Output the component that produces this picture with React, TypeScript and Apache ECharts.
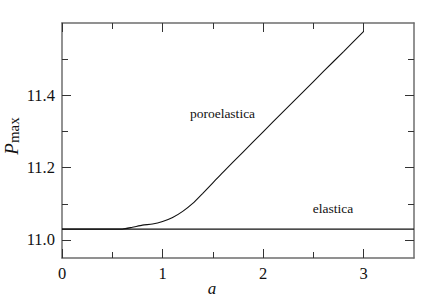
import React, { useEffect, useRef } from "react";
import * as echarts from "echarts";

// a values and P_max values
const poroX = [0, 0.2, 0.4, 0.6, 0.7, 0.8, 0.9, 1.0, 1.1, 1.2, 1.3, 1.4, 1.5, 1.6, 1.8, 2.0, 2.2, 2.4, 2.6, 2.8, 3.0];
const poroY = [11.03, 11.03, 11.03, 11.03, 11.035, 11.041, 11.044, 11.051, 11.062, 11.079, 11.101, 11.129, 11.158, 11.187, 11.243, 11.299, 11.355, 11.41, 11.466, 11.521, 11.577];
const elasticX = [0, 3.5];
const elasticY = [11.03, 11.03];

const xMajorTicks = [0, 1, 2, 3];
const xMinorTicks = [0.5, 1.5, 2.5];
const yMajorTicks = [11.0, 11.2, 11.4];
const yMinorTicks = [11.1, 11.3, 11.5];

const FONT = "Liberation Serif";
const FRAME = "#6e6e6e";
const TICK = "#333";

function xAxisDef(position: "top" | "bottom", ticks: number[], len: number, showLine: boolean, labels: boolean) {
  return {
    type: "value",
    position,
    min: 0,
    max: 3.5,
    splitLine: { show: false },
    axisLine: { show: showLine, onZero: false, lineStyle: { color: FRAME, width: 1.5 } },
    axisTick: { show: true, inside: true, length: len, customValues: ticks, lineStyle: { color: TICK, width: 1 } },
    axisLabel: labels
      ? { show: true, customValues: ticks, margin: 7, color: "#111", fontFamily: FONT, fontSize: 16.5, formatter: (v: number) => String(v) }
      : { show: false },
  };
}

function yAxisDef(position: "left" | "right", ticks: number[], len: number, showLine: boolean, labels: boolean) {
  return {
    type: "value",
    position,
    min: 10.95,
    max: 11.6,
    splitLine: { show: false },
    axisLine: { show: showLine, onZero: false, lineStyle: { color: FRAME, width: 1.5 } },
    axisTick: { show: true, inside: true, length: len, customValues: ticks, lineStyle: { color: TICK, width: 1 } },
    axisLabel: labels
      ? { show: true, customValues: ticks, margin: 7, color: "#111", fontFamily: FONT, fontSize: 16.5, formatter: (v: number) => v.toFixed(1) }
      : { show: false },
  };
}

export default function App() {
  const ref = useRef<HTMLDivElement>(null);
  useEffect(() => {
    if (!ref.current) return;
    const chart = echarts.init(ref.current, null, { renderer: "svg" });
    chart.setOption({
      animation: false,
      backgroundColor: "#fff",
      textStyle: { fontFamily: FONT },
      grid: { left: 62, right: 22, top: 23, bottom: 42 },
      xAxis: [
        xAxisDef("bottom", xMajorTicks, 9, true, true),
        xAxisDef("bottom", xMinorTicks, 6, false, false),
        xAxisDef("top", xMajorTicks, 9, true, false),
        xAxisDef("top", xMinorTicks, 6, false, false),
      ],
      yAxis: [
        yAxisDef("left", yMajorTicks, 9, true, true),
        yAxisDef("left", yMinorTicks, 6, false, false),
        yAxisDef("right", yMajorTicks, 9, true, false),
        yAxisDef("right", yMinorTicks, 6, false, false),
      ],
      series: [
        {
          name: "elastica",
          type: "line",
          xAxisIndex: 0,
          yAxisIndex: 0,
          showSymbol: false,
          lineStyle: { color: "#111", width: 1.3 },
          data: elasticX.map((x, i) => [x, elasticY[i]]),
        },
        {
          name: "poroelastica",
          type: "line",
          xAxisIndex: 0,
          yAxisIndex: 0,
          showSymbol: false,
          smooth: 0.2,
          lineStyle: { color: "#111", width: 1.1 },
          data: poroX.map((x, i) => [x, poroY[i]]),
        },
      ],
      graphic: [
        {
          type: "text",
          x: 222.5,
          y: 113,
          style: { text: "poroelastica", font: "13.5px Liberation Serif", fill: "#111", align: "center", verticalAlign: "middle" },
        },
        {
          type: "text",
          x: 333,
          y: 208,
          style: { text: "elastica", font: "13.5px Liberation Serif", fill: "#111", align: "center", verticalAlign: "middle" },
        },
        {
          type: "text",
          x: 212,
          y: 288,
          style: { text: "a", font: "italic 17px Liberation Serif", fill: "#111", align: "center", verticalAlign: "middle" },
        },
        {
          type: "text",
          x: 11,
          y: 136,
          rotation: Math.PI / 2,
          style: {
            text: "{p|P}{s|max}",
            align: "center",
            verticalAlign: "middle",
            rich: {
              p: { font: "italic 19px Liberation Serif", fill: "#111", lineHeight: 20, verticalAlign: "bottom" },
              s: { font: "15px Liberation Serif", fill: "#111", lineHeight: 16, verticalAlign: "bottom" },
            },
          },
        },
      ],
    });
    return () => chart.dispose();
  }, []);
  return <div ref={ref} style={{ position: "fixed", left: 0, top: 0, width: 436, height: 300 }} />;
}
